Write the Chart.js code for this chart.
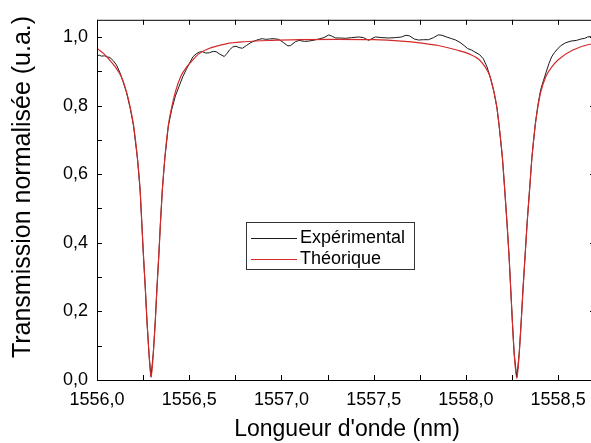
<!DOCTYPE html>
<html>
<head>
<meta charset="utf-8">
<script src="https://cdn.jsdelivr.net/npm/chart.js@4"></script>
<style>
  html, body { margin: 0; padding: 0; background: #fff; overflow: hidden; }
  #wrap { width: 600px; height: 443px; }
</style>
</head>
<body>
<div id="wrap"><canvas id="c" width="600" height="443"></canvas></div>
<script>
// ── DATA ─────────────────────────────────────────────────────
const expLambda = [
  1556.000, 1556.012, 1556.025, 1556.040, 1556.055, 1556.070, 1556.088, 1556.106, 1556.125, 1556.140,
  1556.160, 1556.180, 1556.198, 1556.219, 1556.234, 1556.243, 1556.252, 1556.262, 1556.271, 1556.282,
  1556.293, 1556.305, 1556.316, 1556.325, 1556.335, 1556.344, 1556.354, 1556.368, 1556.387, 1556.405,
  1556.425, 1556.445, 1556.465, 1556.485, 1556.502, 1556.520, 1556.538, 1556.555, 1556.572, 1556.590,
  1556.610, 1556.630, 1556.646, 1556.665, 1556.690, 1556.705, 1556.718, 1556.736, 1556.754, 1556.770,
  1556.788, 1556.810, 1556.835, 1556.862, 1556.880, 1556.896, 1556.915, 1556.934, 1556.955, 1556.985,
  1557.010, 1557.035, 1557.050, 1557.075, 1557.096, 1557.125, 1557.149, 1557.180, 1557.203, 1557.230,
  1557.257, 1557.275, 1557.294, 1557.320, 1557.348, 1557.380, 1557.419, 1557.445, 1557.473, 1557.490,
  1557.509, 1557.545, 1557.581, 1557.620, 1557.651, 1557.675, 1557.695, 1557.720, 1557.743, 1557.770,
  1557.797, 1557.825, 1557.850, 1557.870, 1557.895, 1557.923, 1557.945, 1557.968, 1557.990, 1558.010,
  1558.030, 1558.049, 1558.075, 1558.095, 1558.115, 1558.130, 1558.153, 1558.168, 1558.180, 1558.198,
  1558.211, 1558.223, 1558.234, 1558.243, 1558.252, 1558.262, 1558.276, 1558.289, 1558.300, 1558.310,
  1558.321, 1558.332, 1558.345, 1558.358, 1558.376, 1558.390, 1558.405, 1558.420, 1558.435, 1558.450,
  1558.465, 1558.481, 1558.500, 1558.516, 1558.540, 1558.570, 1558.600, 1558.624, 1558.645, 1558.660,
  1558.680, 1558.700,
];
const expTrans = [
  0.945, 0.947, 0.944, 0.945, 0.942, 0.940, 0.931, 0.918, 0.895, 0.872,
  0.838, 0.792, 0.741, 0.647, 0.551, 0.456, 0.360, 0.266, 0.170, 0.075,
  0.010, 0.077, 0.172, 0.268, 0.363, 0.458, 0.553, 0.648, 0.741, 0.788,
  0.828, 0.856, 0.884, 0.906, 0.924, 0.942, 0.951, 0.956, 0.957, 0.953,
  0.954, 0.958, 0.957, 0.950, 0.943, 0.952, 0.962, 0.971, 0.973, 0.969,
  0.967, 0.975, 0.984, 0.990, 0.993, 0.995, 0.993, 0.994, 0.995, 0.993,
  0.984, 0.974, 0.975, 0.986, 0.990, 0.987, 0.988, 0.991, 0.994, 0.998,
  1.006, 1.002, 0.997, 0.997, 0.996, 0.998, 1.000, 0.998, 0.990, 0.995,
  1.000, 0.998, 0.997, 0.998, 1.000, 1.005, 1.003, 0.994, 0.991, 0.992,
  0.992, 0.998, 1.006, 1.005, 1.000, 0.995, 0.991, 0.984, 0.975, 0.966,
  0.962, 0.956, 0.948, 0.936, 0.912, 0.886, 0.838, 0.794, 0.742, 0.647,
  0.551, 0.456, 0.361, 0.266, 0.170, 0.075, 0.008, 0.077, 0.172, 0.268,
  0.363, 0.458, 0.553, 0.649, 0.745, 0.800, 0.845, 0.872, 0.897, 0.922,
  0.942, 0.955, 0.967, 0.975, 0.983, 0.988, 0.990, 0.994, 0.996, 1.000,
  1.001, 1.003,
];

// Theoretical transmission
const thLambda = [
  1556.000, 1556.035, 1556.065, 1556.100, 1556.130, 1556.160, 1556.180, 1556.198, 1556.219, 1556.234,
  1556.243, 1556.252, 1556.262, 1556.271, 1556.282, 1556.293, 1556.305, 1556.316, 1556.325, 1556.335,
  1556.344, 1556.354, 1556.368, 1556.387, 1556.405, 1556.425, 1556.455, 1556.490, 1556.520, 1556.550,
  1556.600, 1556.700, 1556.800, 1556.950, 1557.100, 1557.300, 1557.500, 1557.650, 1557.750, 1557.850,
  1557.950, 1558.020, 1558.070, 1558.105, 1558.130, 1558.153, 1558.168, 1558.180, 1558.198, 1558.211,
  1558.223, 1558.234, 1558.243, 1558.252, 1558.262, 1558.276, 1558.289, 1558.300, 1558.310, 1558.321,
  1558.332, 1558.345, 1558.358, 1558.376, 1558.390, 1558.405, 1558.435, 1558.465, 1558.499, 1558.580,
  1558.666, 1558.700,
];
const thTrans = [
  0.967, 0.952, 0.935, 0.912, 0.886, 0.840, 0.795, 0.743, 0.648, 0.552,
  0.457, 0.362, 0.267, 0.171, 0.076, 0.008, 0.076, 0.171, 0.267, 0.362,
  0.457, 0.552, 0.648, 0.743, 0.795, 0.840, 0.886, 0.915, 0.933, 0.950,
  0.965, 0.980, 0.986, 0.990, 0.992, 0.993, 0.992, 0.988, 0.983, 0.975,
  0.962, 0.950, 0.935, 0.912, 0.886, 0.838, 0.795, 0.743, 0.648, 0.552,
  0.457, 0.362, 0.267, 0.171, 0.076, 0.005, 0.076, 0.171, 0.267, 0.362,
  0.457, 0.552, 0.648, 0.743, 0.795, 0.838, 0.886, 0.912, 0.933, 0.962,
  0.978, 0.980,
];

// Axes / ticks
const xTicks      = [1556.0, 1556.25, 1556.5, 1556.75, 1557.0, 1557.25, 1557.5, 1557.75, 1558.0, 1558.25, 1558.5];
const xLabels     = { 1556: '1556,0', 1556.5: '1556,5', 1557: '1557,0', 1557.5: '1557,5', 1558: '1558,0', 1558.5: '1558,5' };
const yTicks      = [0, 0.1, 0.2, 0.3, 0.4, 0.5, 0.6, 0.7, 0.8, 0.9, 1.0];
const yMajor      = [0, 0.2, 0.4, 0.6, 0.8, 1.0];
const yLabels     = ['0,0', '0,2', '0,4', '0,6', '0,8', '1,0'];
const seriesNames = ['Expérimental', 'Théorique'];
const xTitle = "Longueur d'onde (nm)";
const yTitle = 'Transmission normalisée (u.a.)';

// ── STYLE ────────────────────────────────────────────────────
const FONT    = 'Arial, "Liberation Sans", sans-serif';
const C_EXP   = '#1a1a1a';
const C_TH    = '#d42a2a';
const TICKLEN = 5;

// ── PLUGIN: frame, inward ticks, titles, legend ──────────────
const framePlugin = {
  id: 'frame',
  afterDraw(chart) {
    const { ctx, chartArea: a, scales: { x, y } } = chart;
    ctx.save();
    ctx.strokeStyle = '#000';
    ctx.lineWidth = 1;
    ctx.strokeRect(a.left + 0.5, a.top + 0.5, a.right - a.left - 1, a.bottom - a.top);

    ctx.beginPath();
    xTicks.forEach(v => {
      const px = Math.round(x.getPixelForValue(v)) + 0.5;
      ctx.moveTo(px, a.bottom); ctx.lineTo(px, a.bottom - TICKLEN);
      ctx.moveTo(px, a.top);    ctx.lineTo(px, a.top + TICKLEN);
    });
    yTicks.forEach(v => {
      const py = Math.round(y.getPixelForValue(v)) + 0.5;
      ctx.moveTo(a.left, py); ctx.lineTo(a.left + TICKLEN, py);
    });
    yMajor.forEach(v => {
      const py = Math.round(y.getPixelForValue(v)) + 0.5;
      ctx.moveTo(a.right, py); ctx.lineTo(a.right - TICKLEN, py);
    });
    ctx.stroke();

    // axis titles
    ctx.fillStyle = '#000';
    ctx.textAlign = 'center';
    ctx.textBaseline = 'middle';
    ctx.font = `23px ${FONT}`;
    ctx.fillText(xTitle, (a.left + a.right) / 2 + 1, 430);
    ctx.font = `25px ${FONT}`;
    ctx.translate(23, 187);
    ctx.rotate(-Math.PI / 2);
    ctx.fillText(yTitle, 0, 0);
    ctx.restore();

    // legend box
    ctx.save();
    const bx = 246.5, by = 222.5, bw = 168, bh = 47;
    ctx.fillStyle = '#fff';
    ctx.fillRect(bx, by, bw, bh);
    ctx.strokeStyle = '#333';
    ctx.lineWidth = 1;
    ctx.strokeRect(bx, by, bw, bh);
    ctx.font = `18px ${FONT}`;
    ctx.textAlign = 'left';
    ctx.textBaseline = 'middle';
    [C_EXP, C_TH].forEach((col, i) => {
      const ly = 238.5 + i * 21;
      ctx.strokeStyle = col;
      ctx.beginPath(); ctx.moveTo(251, ly); ctx.lineTo(297, ly); ctx.stroke();
      ctx.fillStyle = '#000';
      ctx.fillText(seriesNames[i], 300, ly);
    });
    ctx.restore();
  },
};

// ── CHART ────────────────────────────────────────────────────
const toXY = (xs, ys) => xs.map((v, i) => ({ x: v, y: ys[i] }));

new Chart(document.getElementById('c'), {
  type: 'line',
  data: {
    datasets: [
      {
        label: seriesNames[1],
        data: toXY(thLambda, thTrans),
        borderColor: C_TH,
        borderWidth: 1.2,
        pointRadius: 0,
        cubicInterpolationMode: 'monotone',
        order: 0,
      },
      {
        label: seriesNames[0],
        data: toXY(expLambda, expTrans),
        borderColor: C_EXP,
        borderWidth: 1,
        pointRadius: 0,
        tension: 0,
        order: 1,
      },
    ],
  },
  options: {
    responsive: false,
    animation: false,
    devicePixelRatio: 1,
    layout: { padding: { left: 0, top: 12, right: 5, bottom: 0 } },
    plugins: { legend: { display: false }, tooltip: { enabled: false } },
    scales: {
      x: {
        type: 'linear',
        min: 1556,
        max: 1558.7,
        afterFit: s => { s.height = 63; },
        afterBuildTicks: s => { s.ticks = xTicks.map(v => ({ value: v })); },
        grid: { display: false, drawTicks: false },
        border: { display: false },
        ticks: {
          color: '#000',
          font: { family: FONT, size: 18 },
          padding: 9,
          maxRotation: 0,
          autoSkip: false,
          callback: v => xLabels[v] || '',
        },
      },
      y: {
        type: 'linear',
        min: 0,
        max: 1.05,
        afterFit: s => { s.width = 97; },
        afterBuildTicks: s => { s.ticks = yMajor.map(v => ({ value: v })); },
        grid: { display: false, drawTicks: false },
        border: { display: false },
        ticks: {
          color: '#000',
          font: { family: FONT, size: 18 },
          padding: 9,
          autoSkip: false,
          callback: (v, i) => yLabels[i],
        },
      },
    },
  },
  plugins: [framePlugin],
});
</script>
</body>
</html>
